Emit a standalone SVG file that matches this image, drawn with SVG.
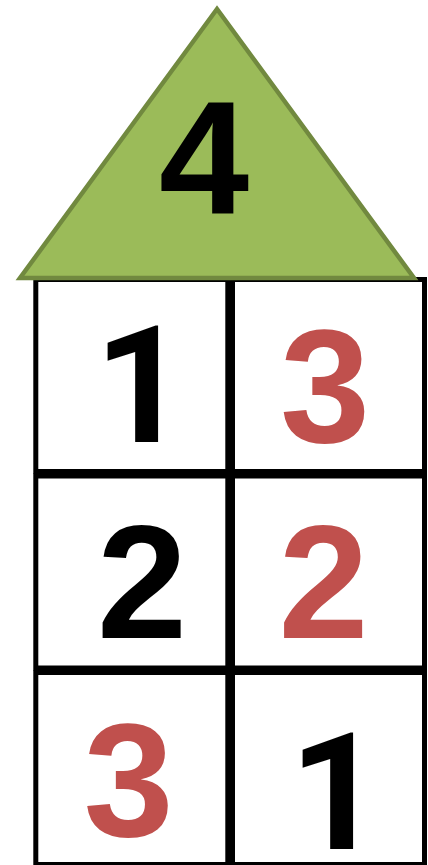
<svg xmlns="http://www.w3.org/2000/svg" width="428" height="865" viewBox="0 0 428 865">
<style>
.cell{fill:#FFFFFF;stroke:#000000;stroke-width:5}
.num{font-family:"Liberation Sans",Arial,sans-serif;font-weight:bold;font-size:162px;text-anchor:middle}
.one{font-family:Roboto,"Liberation Sans",sans-serif;font-weight:bold;font-size:163px;text-anchor:middle}
.blk{fill:#000000}
.red{fill:#C0504D}
</style>
<rect width="428" height="865" fill="#FFFFFF"/>
<g id="cell-1-1"><rect class="cell" x="35.8" y="279.5" width="192" height="192"/><text class="one blk" x="141" y="442">1</text></g>
<g id="cell-1-2"><rect class="cell" x="232.5" y="279.5" width="192" height="192"/><text class="num red" x="325" y="442">3</text></g>
<g id="cell-2-1"><rect class="cell" x="35.8" y="476" width="192" height="192"/><text class="num blk" x="142" y="638">2</text></g>
<g id="cell-2-2"><rect class="cell" x="232.5" y="476" width="192" height="192"/><text class="num red" x="323.5" y="638">2</text></g>
<g id="cell-3-1"><rect class="cell" x="35.8" y="672.5" width="192" height="192"/><text class="num red" x="128.5" y="836">3</text></g>
<g id="cell-3-2"><rect class="cell" x="232.5" y="672.5" width="192" height="192"/><text class="one blk" x="336" y="849">1</text></g>
<g id="roof"><polygon points="217,9 20,278 414,278" fill="#9BBB59" stroke="#71893F" stroke-width="4.5" stroke-linejoin="miter"/><text class="num blk" x="204" y="214">4</text></g>
<g id="connectors"></g>
</svg>
